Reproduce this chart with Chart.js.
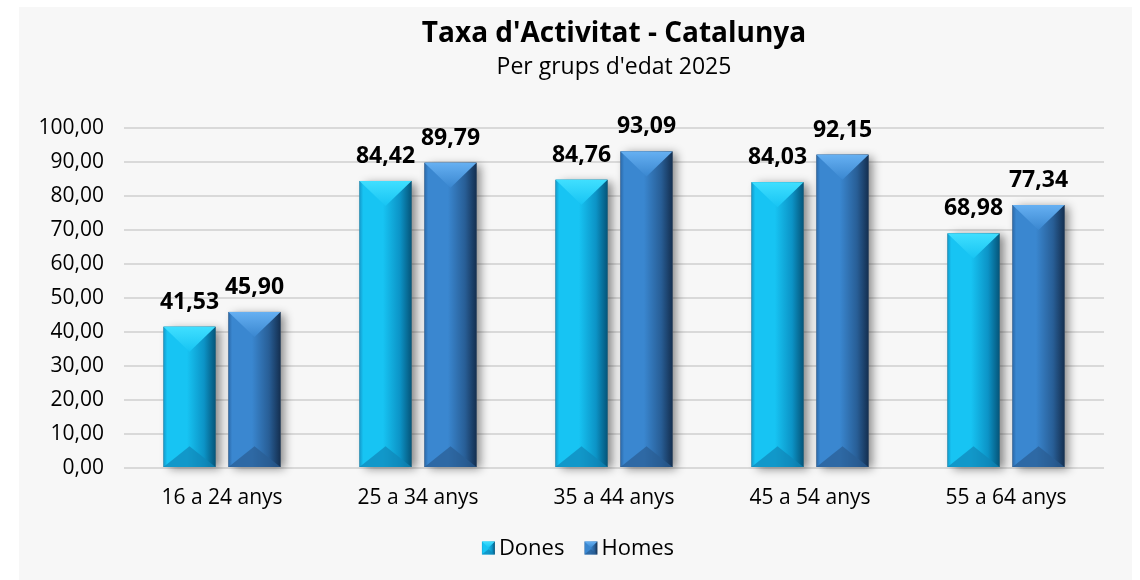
<!DOCTYPE html>
<html>
<head>
<meta charset="utf-8">
<script src="https://cdn.jsdelivr.net/npm/chart.js@4.4.1/dist/chart.umd.min.js"></script>
<style>
  html, body { margin: 0; padding: 0; background: #fff; }
  #wrap { width: 1140px; height: 580px; }
</style>
</head>
<body>
<div id="wrap"><canvas id="chart" width="1140" height="580"></canvas></div>
<script>
// dades
const grups = ["16 a 24 anys", "25 a 34 anys", "35 a 44 anys", "45 a 54 anys", "55 a 64 anys"];
const dones = [41.53, 84.42, 84.76, 84.03, 68.98];
const homes = [45.90, 89.79, 93.09, 92.15, 77.34];
const yTicks = [0, 10, 20, 30, 40, 50, 60, 70, 80, 90, 100];
const titol = "Taxa d'Activitat - Catalunya";
const subtitol = "Per grups d'edat 2025";

const FONT = "'Open Sans', sans-serif";

// colors per serie
const palettes = [
    { edgeL: '#1399cb', mid: '#17c4f3', right: '#0c93c6', edgeR: '#05557a', top: '#40dfff', bottom: '#0f86b8', legend: '#14b2e4' },
    { edgeL: '#2b69a9', mid: '#3a87d0', right: '#285e96', edgeR: '#142f50', top: '#66b0f2', bottom: '#2a5d93', legend: '#2f6db0' }
];

const fmt = v => v.toFixed(2).replace('.', ',');

// fons gris del panell
const panelBg = {
    id: 'panelBg',
    beforeDraw(chart) {
        const ctx = chart.ctx;
        ctx.save();
        ctx.fillStyle = '#f7f7f7';
        ctx.fillRect(19, 7, 1113, 573);
        ctx.restore();
    }
};

function drawBevel(ctx, p, x0, top, w, h) {
    const x1 = x0 + w, bot = top + h, cx = x0 + w / 2;
    const g = ctx.createLinearGradient(x0, 0, x1, 0);
    g.addColorStop(0, p.edgeL);
    g.addColorStop(0.07, p.mid);
    g.addColorStop(0.45, p.mid);
    g.addColorStop(0.78, p.right);
    g.addColorStop(1, p.edgeR);
    ctx.fillStyle = g;
    ctx.fillRect(x0, top, w, h);

    const triT = Math.min(w * 0.48, h / 2);
    const gt = ctx.createLinearGradient(0, top, 0, top + triT);
    gt.addColorStop(0, p.top);
    gt.addColorStop(1, p.mid);
    ctx.fillStyle = gt;
    ctx.beginPath();
    ctx.moveTo(x0, top);
    ctx.lineTo(x1, top);
    ctx.lineTo(cx, top + triT);
    ctx.closePath();
    ctx.fill();

    const triB = Math.min(w * 0.4, h / 2);
    ctx.save();
    ctx.globalAlpha = 0.7;
    ctx.fillStyle = p.bottom;
    ctx.beginPath();
    ctx.moveTo(x0, bot);
    ctx.lineTo(x1, bot);
    ctx.lineTo(cx, bot - triB);
    ctx.closePath();
    ctx.fill();
    ctx.restore();
}

// barres amb bisell
const bevelBars = {
    id: 'bevelBars',
    afterDatasetsDraw(chart) {
        const ctx = chart.ctx;
        const metas = chart.data.datasets.map((d, i) => chart.getDatasetMeta(i));
        metas.forEach(meta => {
            meta.data.forEach(bar => {
                const w = bar.width;
                ctx.save();
                ctx.shadowColor = 'rgba(0,0,0,0.45)';
                ctx.shadowBlur = 9;
                ctx.shadowOffsetX = 5;
                ctx.shadowOffsetY = 2;
                ctx.fillStyle = '#777';
                ctx.fillRect(bar.x - w / 2, bar.y, w, bar.base - bar.y);
                ctx.restore();
            });
        });
        metas.forEach((meta, di) => {
            meta.data.forEach(bar => {
                ctx.save();
                drawBevel(ctx, palettes[di], bar.x - bar.width / 2, bar.y, bar.width, bar.base - bar.y);
                ctx.restore();
            });
        });
    }
};

// etiquetes de valor
const valueLabels = {
    id: 'valueLabels',
    afterDatasetsDraw(chart) {
        const ctx = chart.ctx;
        ctx.save();
        ctx.font = "bold 23px " + FONT;
        ctx.fillStyle = '#000';
        ctx.textAlign = 'center';
        ctx.textBaseline = 'alphabetic';
        chart.data.datasets.forEach((ds, i) => {
            chart.getDatasetMeta(i).data.forEach((bar, j) => {
                ctx.fillText(fmt(ds.data[j]), bar.x, bar.y - 18);
            });
        });
        ctx.restore();
    }
};

// títol, subtítol i llegenda
const textBlocks = {
    id: 'textBlocks',
    afterDraw(chart) {
        const ctx = chart.ctx;
        const a = chart.chartArea;
        const cx = (a.left + a.right) / 2;
        ctx.save();
        ctx.fillStyle = '#000';
        ctx.textAlign = 'center';
        ctx.textBaseline = 'alphabetic';
        ctx.font = "bold 28px " + FONT;
        ctx.fillText(titol, cx, 42);
        ctx.font = "23px " + FONT;
        ctx.fillText(subtitol, cx, 74);

        // llegenda
        ctx.font = "22px " + FONT;
        const box = 13, gapBox = 4, gapItem = 20;
        const items = chart.data.datasets.map((ds, i) => ({ text: ds.label, p: palettes[i], tw: ctx.measureText(ds.label).width }));
        const total = items.reduce((s, it) => s + box + gapBox + it.tw, 0) + gapItem * (items.length - 1);
        let x = 578 - total / 2;
        const y = 548;
        ctx.textAlign = 'left';
        ctx.textBaseline = 'middle';
        items.forEach(it => {
            drawBevel(ctx, it.p, x, y - box / 2, box, box);
            ctx.fillStyle = '#000';
            ctx.fillText(it.text, x + box + gapBox, y + 1);
            x += box + gapBox + it.tw + gapItem;
        });
        ctx.restore();
    }
};

new Chart(document.getElementById('chart'), {
    type: 'bar',
    data: {
        labels: grups,
        datasets: [
            { label: 'Dones', data: dones, backgroundColor: palettes[0].legend },
            { label: 'Homes', data: homes, backgroundColor: palettes[1].legend }
        ]
    },
    options: {
        responsive: false,
        animation: false,
        layout: { padding: { left: 0, right: 36, top: 128, bottom: 0 } },
        categoryPercentage: 0.663,
        barPercentage: 0.8,
        scales: {
            x: {
                afterFit: s => { s.height = 112; },
                grid: { display: false },
                border: { display: false },
                ticks: { color: '#000', font: { family: FONT, size: 21 }, padding: 9 }
            },
            y: {
                min: 0, max: 100,
                afterFit: s => { s.width = 124; },
                afterBuildTicks: s => { s.ticks = yTicks.map(v => ({ value: v })); },
                grid: { color: '#d9d9d9', lineWidth: 2, drawTicks: false },
                border: { display: false },
                ticks: { color: '#000', font: { family: FONT, size: 21 }, padding: 20, callback: v => fmt(v) }
            }
        },
        plugins: {
            title: { display: false },
            legend: { display: false },
            tooltip: { enabled: false }
        }
    },
    plugins: [panelBg, bevelBars, valueLabels, textBlocks]
});
</script>
</body>
</html>
